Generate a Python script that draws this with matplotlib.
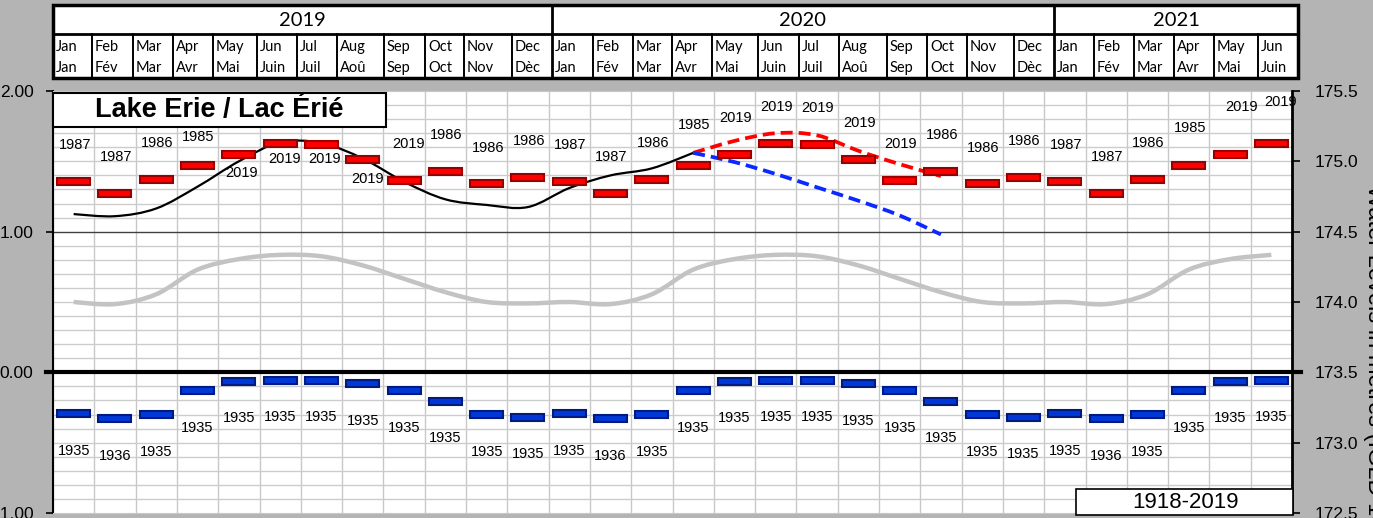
import numpy as np
import matplotlib
matplotlib.use("Agg")
import matplotlib.pyplot as plt
from matplotlib.path import Path
from matplotlib.patches import PathPatch, Rectangle
from matplotlib.ticker import FormatStrFormatter

plt.rcParams["font.family"] = ["Liberation Sans", "DejaVu Sans"]

# ── data ────────────────────────────────────────────────
YEARS = ["2019", "2020", "2021"]
MONTHS_EN = ["Jan", "Feb", "Mar", "Apr", "May", "Jun",
             "Jul", "Aug", "Sep", "Oct", "Nov", "Dec"]
MONTHS_FR = ["Jan", "Fév", "Mar", "Avr", "Mai", "Juin",
             "Juil", "Aoû", "Sep", "Oct", "Nov", "Dèc"]
N_MONTHS = 30  # Jan 2019 .. Jun 2021

# record high / low per calendar month (deviation from chart datum, m)
MAX_MONTHLY = [1.357, 1.272, 1.372, 1.471, 1.549, 1.630,
               1.623, 1.516, 1.365, 1.431, 1.341, 1.386]
MAX_YEAR = ["1987", "1987", "1986", "1985", "2019", "2019",
            "2019", "2019", "2019", "1986", "1986", "1986"]
MIN_MONTHLY = [-0.295, -0.330, -0.300, -0.130, -0.064, -0.055,
               -0.055, -0.080, -0.130, -0.204, -0.300, -0.320]
MIN_YEAR = ["1935", "1936", "1935", "1935", "1935", "1935",
            "1935", "1935", "1935", "1935", "1935", "1935"]
# long-term average 1918-2019
AVG_MONTHLY = [0.500, 0.485, 0.555, 0.730, 0.805, 0.835,
               0.825, 0.760, 0.665, 0.570, 0.500, 0.490]

# recorded levels Jan 2019 .. Apr 2020
RECORDED = [1.125, 1.110, 1.165, 1.320, 1.500, 1.635, 1.630, 1.520,
            1.355, 1.230, 1.190, 1.175, 1.310, 1.400, 1.450, 1.560]
# forecast Apr 2020 .. Oct 2020
FCST_HIGH = [1.560, 1.645, 1.700, 1.685, 1.575, 1.480, 1.395]
FCST_LOW = [1.560, 1.495, 1.410, 1.315, 1.220, 1.115, 0.980]
FCST_START = 15

DATUM = 173.5

# ── helpers ─────────────────────────────────────────────
def tile(vals):
    return [vals[i % 12] for i in range(N_MONTHS)]


def smooth_path(xs, ys):
    # excel style smoothed line (catmull-rom -> bezier)
    pts = np.column_stack([xs, ys]).astype(float)
    n = len(pts)
    verts = [pts[0]]
    codes = [Path.MOVETO]
    for i in range(n - 1):
        p0 = pts[i - 1] if i > 0 else pts[i]
        p1, p2 = pts[i], pts[i + 1]
        p3 = pts[i + 2] if i + 2 < n else pts[i + 1]
        verts += [p1 + (p2 - p0) / 6, p2 - (p3 - p1) / 6, p2]
        codes += [Path.CURVE4] * 3
    return Path(verts, codes)


W, H = 1373, 518
PX = 422 / 3.0  # pixels per metre on the plot

fig = plt.figure(figsize=(W / 100, H / 100), dpi=100, facecolor="#b4b4b4")
ax = fig.add_axes([53 / W, 1 - 513 / H, (1292 - 53) / W, (513 - 91) / H])
ax.set_facecolor("white")
ax.set_xlim(0, N_MONTHS)
ax.set_ylim(-1, 2)

x = np.arange(N_MONTHS) + 0.5
max_v = tile(MAX_MONTHLY)
min_v = tile(MIN_MONTHLY)
avg_v = tile(AVG_MONTHLY)

# grid
ax.set_xticks(np.arange(N_MONTHS + 1))
ax.set_yticks([-1, 0, 1, 2])
ax.set_yticks(np.arange(-1, 2.001, 0.1), minor=True)
ax.grid(True, which="major", axis="x", color="#c8c8c8", lw=1)
ax.grid(True, which="minor", axis="y", color="#cccccc", lw=1)
ax.set_axisbelow(True)
ax.tick_params(axis="x", length=0, labelbottom=False)
ax.tick_params(axis="y", which="minor", length=0)
ax.tick_params(axis="y", which="major", length=5, width=1.2, pad=9,
               labelsize=12.5, color="black")
ax.yaxis.set_major_formatter(FormatStrFormatter("%.2f"))
ax.axhline(1.0, color="#404040", lw=1, zorder=1)
ax.axhline(0.0, xmin=-0.006, xmax=1.007, color="black", lw=3, zorder=4,
           clip_on=False)
for s in ["top", "bottom"]:
    ax.spines[s].set_color("#c8c8c8")
ax.spines["left"].set_linewidth(1.5)
ax.spines["right"].set_visible(False)

ax2 = ax.twinx()
ax2.set_ylim(-1 + DATUM, 2 + DATUM)
ax2.set_yticks(np.arange(172.5, 175.51, 0.5))
ax2.yaxis.set_major_formatter(FormatStrFormatter("%.1f"))
ax2.tick_params(axis="y", length=6, width=1.2, pad=10, labelsize=12.5)
for s in ["top", "bottom", "left"]:
    ax2.spines[s].set_visible(False)
ax2.spines["right"].set_linewidth(2)

# lines
ax.add_patch(PathPatch(smooth_path(x, avg_v), fill=False,
                       edgecolor="#c3c3c3", lw=3.2, zorder=2))
ax.add_patch(PathPatch(smooth_path(x[:len(RECORDED)], RECORDED), fill=False,
                       edgecolor="black", lw=1.6, zorder=3))
xf = x[FCST_START:FCST_START + len(FCST_HIGH)]
ax.add_patch(PathPatch(smooth_path(xf, FCST_HIGH), fill=False,
                       edgecolor="#ff0000", lw=2.7, zorder=3,
                       linestyle=(0, (3.2, 1.6))))
ax.add_patch(PathPatch(smooth_path(xf, FCST_LOW), fill=False,
                       edgecolor="#0a28ff", lw=2.7, zorder=3,
                       linestyle=(0, (3.2, 1.6))))

# record markers
bh = 7 / PX
ax.bar(x, bh, bottom=np.array(max_v) - bh / 2, width=0.8, color="#ff0000",
       edgecolor="#9a0000", lw=1.5, zorder=5)
ax.bar(x, bh, bottom=np.array(min_v) - bh / 2, width=0.8, color="#0038d8",
       edgecolor="#001a80", lw=1.5, zorder=5)

# record year labels (pixel offsets from the marker)
hi_dy = {3: 28, 4: -19, 5: -16, 6: -15, 7: -20, 15: 40, 27: 37, 28: 47, 29: 41}
hi_dx = {4: 3, 5: 4, 6: 3, 7: 5, 8: 5, 28: 12, 29: 9}
for i in range(N_MONTHS):
    dy = hi_dy.get(i, 36) / PX
    dx = hi_dx.get(i, 1) / 41.3
    ax.text(x[i] + dx, max_v[i] + dy, MAX_YEAR[i % 12], ha="center",
            va="center", fontsize=10.5, zorder=6, clip_on=False)
    ax.text(x[i], min_v[i] - 37 / PX, MIN_YEAR[i % 12], ha="center",
            va="center", fontsize=10.5, zorder=6)

# ── overlay in pixel coords: header table and boxes ─────
ov = fig.add_axes([0, 0, 1, 1], zorder=10)
ov.set_xlim(0, W)
ov.set_ylim(H, 0)
ov.axis("off")

edges = [53, 92, 133, 173, 213, 257, 297, 337, 384, 425, 464, 512,
         552, 593, 633, 672, 712, 758, 799, 839, 887, 927,
         967, 1014, 1054, 1094, 1134, 1174, 1214, 1258, 1298]
top, mid, bot = 5, 34, 78
ov.add_patch(Rectangle((edges[0], top), edges[-1] - edges[0], bot - top,
                       facecolor="white", edgecolor="none"))
hfont = dict(family=["Lato", "DejaVu Sans"])
for i in range(N_MONTHS):
    x0 = edges[i]
    lw = 2.0 if i % 12 == 0 else 1.4
    ov.plot([x0, x0], [mid, bot], color="black", lw=lw)
    ov.text(x0 + 3, 47, MONTHS_EN[i % 12], ha="left", va="center",
            fontsize=10.5, **hfont)
    ov.text(x0 + 3, 68, MONTHS_FR[i % 12], ha="left", va="center",
            fontsize=10.5, **hfont)
year_edges = [edges[0], edges[12], edges[24], edges[-1]]
for k, yr in enumerate(YEARS):
    a, b = year_edges[k], year_edges[k + 1]
    ov.plot([a, a], [top, mid], color="black", lw=2)
    ov.text((a + b) / 2, 20, yr, ha="center", va="center", fontsize=14.5,
            **hfont)
ov.plot([edges[0], edges[-1]], [mid, mid], color="black", lw=2)
ov.add_patch(Rectangle((edges[0], top), edges[-1] - edges[0], bot - top,
                       facecolor="none", edgecolor="black", lw=2.5))

# title box
ov.add_patch(Rectangle((53, 93), 333, 34, facecolor="white",
                       edgecolor="black", lw=1.5))
ov.text(219.5, 110.5, "Lake Erie / Lac Érié", ha="center", va="center",
        fontsize=19.5, fontweight="bold")

# period box
ov.add_patch(Rectangle((1076, 489), 217, 26, facecolor="white",
                       edgecolor="black", lw=1.2))
ov.text(1185, 502, "1918-2019", ha="center", va="center", fontsize=16)

# right axis title, mostly off the canvas
fig.text(1363 / W, 1 - 185 / H, "Water Levels in metres (IGLD 1985)",
         rotation=-90, ha="left", va="top", fontsize=17)

fig.savefig("out.png", dpi=100, facecolor=fig.get_facecolor())
